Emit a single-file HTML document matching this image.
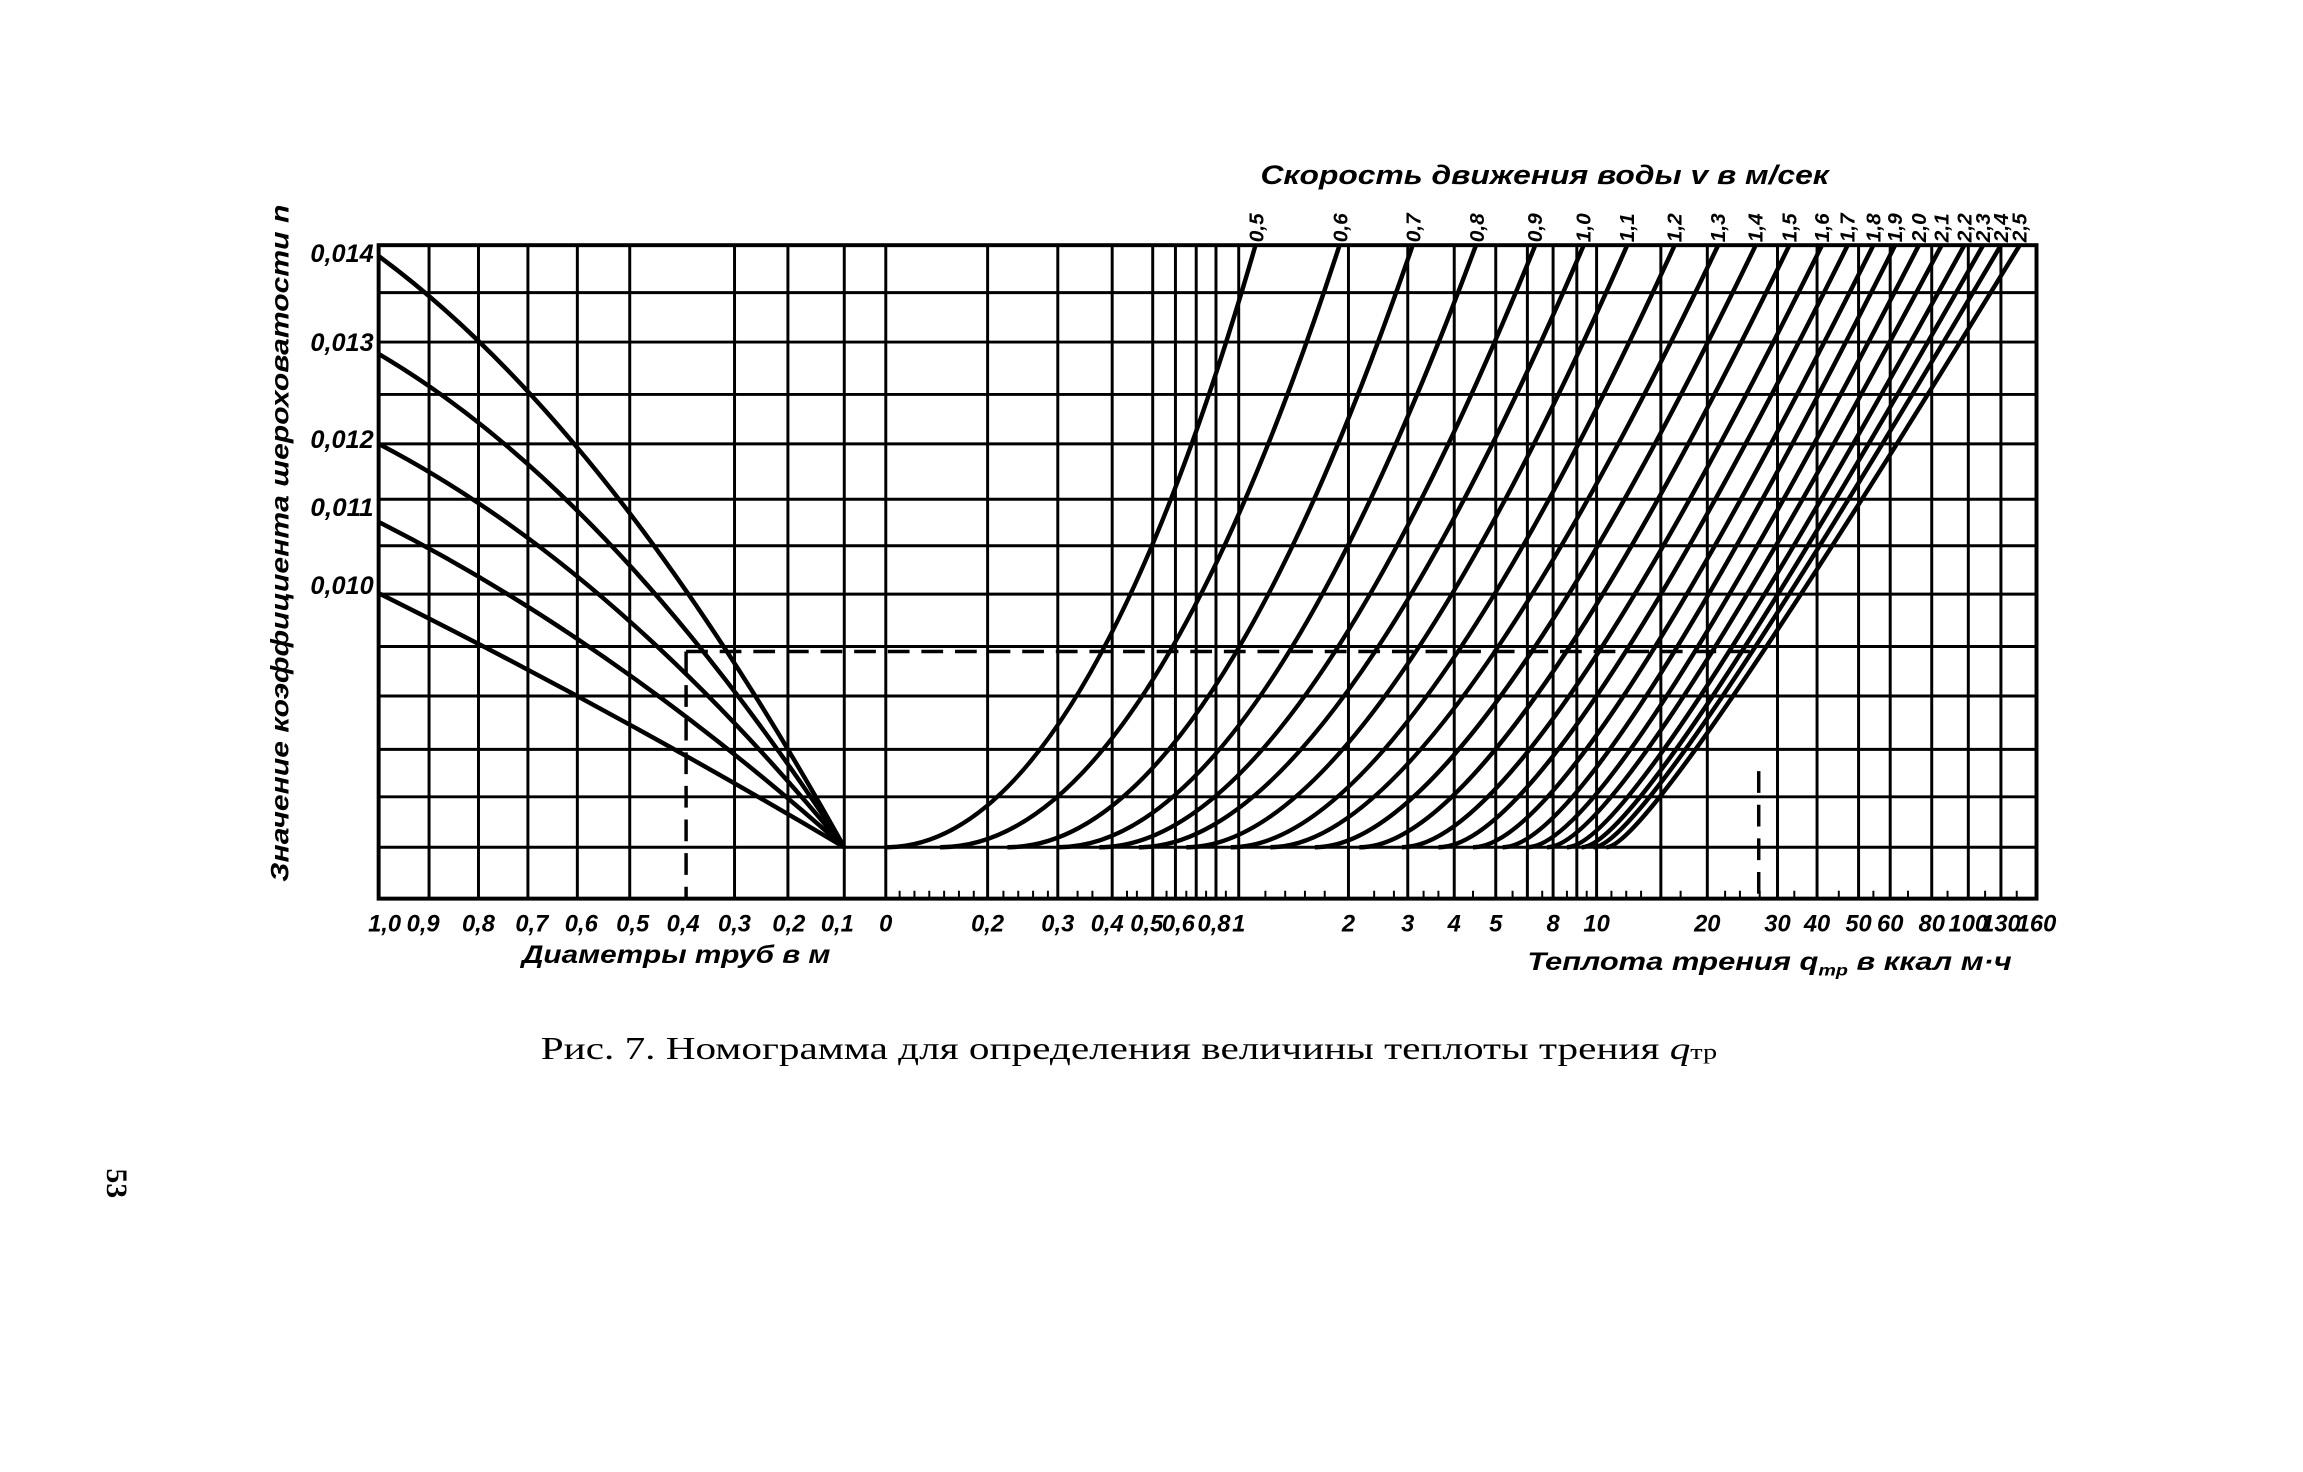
<!DOCTYPE html>
<html><head><meta charset="utf-8"><style>
html,body{margin:0;padding:0;background:#fff;}
svg{display:block;}
.it{font-family:"Liberation Sans",sans-serif;font-style:italic;font-weight:bold;fill:#000;}
.sr{font-family:"Liberation Serif",serif;fill:#000;}
</style></head><body>
<svg width="2303" height="1472" viewBox="0 0 2303 1472" xmlns="http://www.w3.org/2000/svg">
<rect width="2303" height="1472" fill="#fff"/>
<g transform="scale(0.9886)">
<g stroke="#000" stroke-width="3" fill="none">
<path d="M383 296H2060M383 346H2060M383 399H2060M383 449H2060M383 505H2060M383 552H2060M383 601H2060M383 654H2060M383 704H2060M383 758H2060M383 806H2060M383 857H2060"/>
<path d="M434 248V909M484 248V909M534 248V909M584 248V909M637 248V909M743 248V909M797 248V909M854 248V909"/>
<path d="M896 248V909M999 248V909M1070 248V909M1125 248V909M1166 248V909M1189 248V909M1210 248V909M1230 248V909M1253 248V909M1364 248V909M1424 248V909M1471 248V909M1513 248V909M1545 248V909M1571 248V909M1595 248V909M1615 248V909M1680 248V909M1727 248V909M1798 248V909M1838 248V909M1880 248V909M1912 248V909M1954 248V909M1991 248V909M2024 248V909"/>
</g>
<rect x="383" y="248" width="1677" height="661" fill="none" stroke="#000" stroke-width="4"/>
<path stroke="#000" stroke-width="2" d="M910 909v-8M925 909v-8M940 909v-8M955 909v-8M970 909v-8M985 909v-8M1015 909v-8M1030 909v-8M1045 909v-8M1060 909v-8M1090 909v-8M1105 909v-8M1140 909v-8M1150 909v-8M1180 909v-8M1200 909v-8M1220 909v-8M1240 909v-8M1280 909v-8M1300 909v-8M1320 909v-8M1340 909v-8M1390 909v-8M1410 909v-8M1440 909v-8M1455 909v-8M1490 909v-8M1530 909v-8M1560 909v-8M1585 909v-8M1605 909v-8M1630 909v-8M1645 909v-8M1660 909v-8M1700 909v-8M1745 909v-8M1760 909v-8M1780 909v-8M1815 909v-8M1860 909v-8M1895 909v-8M1930 909v-8M1970 909v-8M2008 909v-8M2040 909v-8"/>
<g stroke="#000" stroke-width="4.5" fill="none">
<path d="M383 259Q618 432 854 857"/>
<path d="M383 358Q618 496 854 857"/>
<path d="M383 449Q618 571 854 857"/>
<path d="M383 528Q618 647 854 857"/>
<path d="M383 600Q618 717 854 857"/>
</g>
<g stroke="#000" stroke-width="4.5" fill="none">
<path d="M896 857Q1094 857 1270 248"/>
<path d="M951 857Q1157 857 1355 248"/>
<path d="M1019 857Q1220 857 1429 248"/>
<path d="M1070 857Q1267 857 1493 248"/>
<path d="M1112 857Q1306 857 1553 248"/>
<path d="M1152 857Q1341 857 1602 248"/>
<path d="M1200 857Q1378 857 1646 248"/>
<path d="M1245 857Q1416 857 1694 248"/>
<path d="M1285 857Q1448 857 1738 248"/>
<path d="M1330 857Q1482 857 1776 248"/>
<path d="M1375 857Q1514 857 1810 248"/>
<path d="M1418 857Q1543 857 1843 248"/>
<path d="M1455 857Q1567 857 1869 248"/>
<path d="M1490 857Q1591 857 1895 248"/>
<path d="M1520 857Q1611 857 1917 248"/>
<path d="M1545 857Q1628 857 1941 248"/>
<path d="M1565 857Q1641 857 1964 248"/>
<path d="M1585 857Q1653 857 1987 248"/>
<path d="M1600 857Q1661 857 2006 248"/>
<path d="M1612 857Q1666 857 2024 248"/>
<path d="M1625 857Q1671 857 2043 248"/>
</g>
<g stroke="#000" stroke-width="3.5" fill="none" stroke-dasharray="22 12">
<path d="M694 659H1779"/>
<path d="M694 659V909"/>
<path d="M1779 780V909"/>
</g>
<text class="it" x="1275" y="186" font-size="27" textLength="575" lengthAdjust="spacingAndGlyphs">Скорость движения воды v в м/сек</text>
<g class="it" font-size="21">
<text transform="translate(1278,245) rotate(-90)">0,5</text>
<text transform="translate(1363,245) rotate(-90)">0,6</text>
<text transform="translate(1437,245) rotate(-90)">0,7</text>
<text transform="translate(1501,245) rotate(-90)">0,8</text>
<text transform="translate(1560,245) rotate(-90)">0,9</text>
<text transform="translate(1609,245) rotate(-90)">1,0</text>
<text transform="translate(1653,245) rotate(-90)">1,1</text>
<text transform="translate(1701,245) rotate(-90)">1,2</text>
<text transform="translate(1745,245) rotate(-90)">1,3</text>
<text transform="translate(1783,245) rotate(-90)">1,4</text>
<text transform="translate(1817,245) rotate(-90)">1,5</text>
<text transform="translate(1850,245) rotate(-90)">1,6</text>
<text transform="translate(1876,245) rotate(-90)">1,7</text>
<text transform="translate(1902,245) rotate(-90)">1,8</text>
<text transform="translate(1924,245) rotate(-90)">1,9</text>
<text transform="translate(1948,245) rotate(-90)">2,0</text>
<text transform="translate(1971,245) rotate(-90)">2,1</text>
<text transform="translate(1994,245) rotate(-90)">2,2</text>
<text transform="translate(2013,245) rotate(-90)">2,3</text>
<text transform="translate(2031,245) rotate(-90)">2,4</text>
<text transform="translate(2050,245) rotate(-90)">2,5</text>
</g>
<g class="it" font-size="25" text-anchor="end">
<text x="378" y="265" textLength="64" lengthAdjust="spacingAndGlyphs">0,014</text>
<text x="378" y="355" textLength="64" lengthAdjust="spacingAndGlyphs">0,013</text>
<text x="378" y="453" textLength="64" lengthAdjust="spacingAndGlyphs">0,012</text>
<text x="378" y="522" textLength="64" lengthAdjust="spacingAndGlyphs">0,011</text>
<text x="378" y="601" textLength="64" lengthAdjust="spacingAndGlyphs">0,010</text>
</g>
<text class="it" font-size="25" transform="translate(292,892) rotate(-90)" textLength="685" lengthAdjust="spacingAndGlyphs">Значение коэффициента шероховатости n</text>
<g class="it" font-size="24" text-anchor="middle">
<text x="389" y="942">1,0</text><text x="428" y="942">0,9</text><text x="484" y="942">0,8</text>
<text x="538" y="942">0,7</text><text x="588" y="942">0,6</text><text x="640" y="942">0,5</text>
<text x="691" y="942">0,4</text><text x="743" y="942">0,3</text><text x="798" y="942">0,2</text>
<text x="847" y="942">0,1</text><text x="896" y="942">0</text>
<text x="999" y="942">0,2</text><text x="1070" y="942">0,3</text><text x="1120" y="942">0,4</text>
<text x="1160" y="942">0,5</text><text x="1192" y="942">0,6</text><text x="1228" y="942">0,8</text>
<text x="1253" y="942">1</text><text x="1364" y="942">2</text><text x="1424" y="942">3</text>
<text x="1471" y="942">4</text><text x="1513" y="942">5</text><text x="1571" y="942">8</text>
<text x="1615" y="942">10</text><text x="1727" y="942">20</text><text x="1798" y="942">30</text>
<text x="1838" y="942">40</text><text x="1880" y="942">50</text><text x="1912" y="942">60</text>
<text x="1954" y="942">80</text><text x="1991" y="942">100</text><text x="2024" y="942">130</text>
<text x="2060" y="942">160</text>
</g>
<text class="it" font-size="25" x="528" y="974" textLength="312" lengthAdjust="spacingAndGlyphs">Диаметры труб в м</text>
<text class="it" font-size="25" x="1545" y="981" textLength="490" lengthAdjust="spacingAndGlyphs">Теплота трения q<tspan font-size="16" dy="6">тр</tspan><tspan dy="-6"> в ккал м·ч</tspan></text>
<text class="sr" font-size="32" x="547" y="1071" textLength="1190" lengthAdjust="spacingAndGlyphs">Рис. 7.  Номограмма  для  определения  величины  теплоты трения <tspan font-style="italic">q</tspan><tspan font-size="22">тр</tspan></text>
<text class="sr" font-size="30" font-weight="bold" transform="translate(108,1182) rotate(90)">53</text>
</g>
</svg>
</body></html>
